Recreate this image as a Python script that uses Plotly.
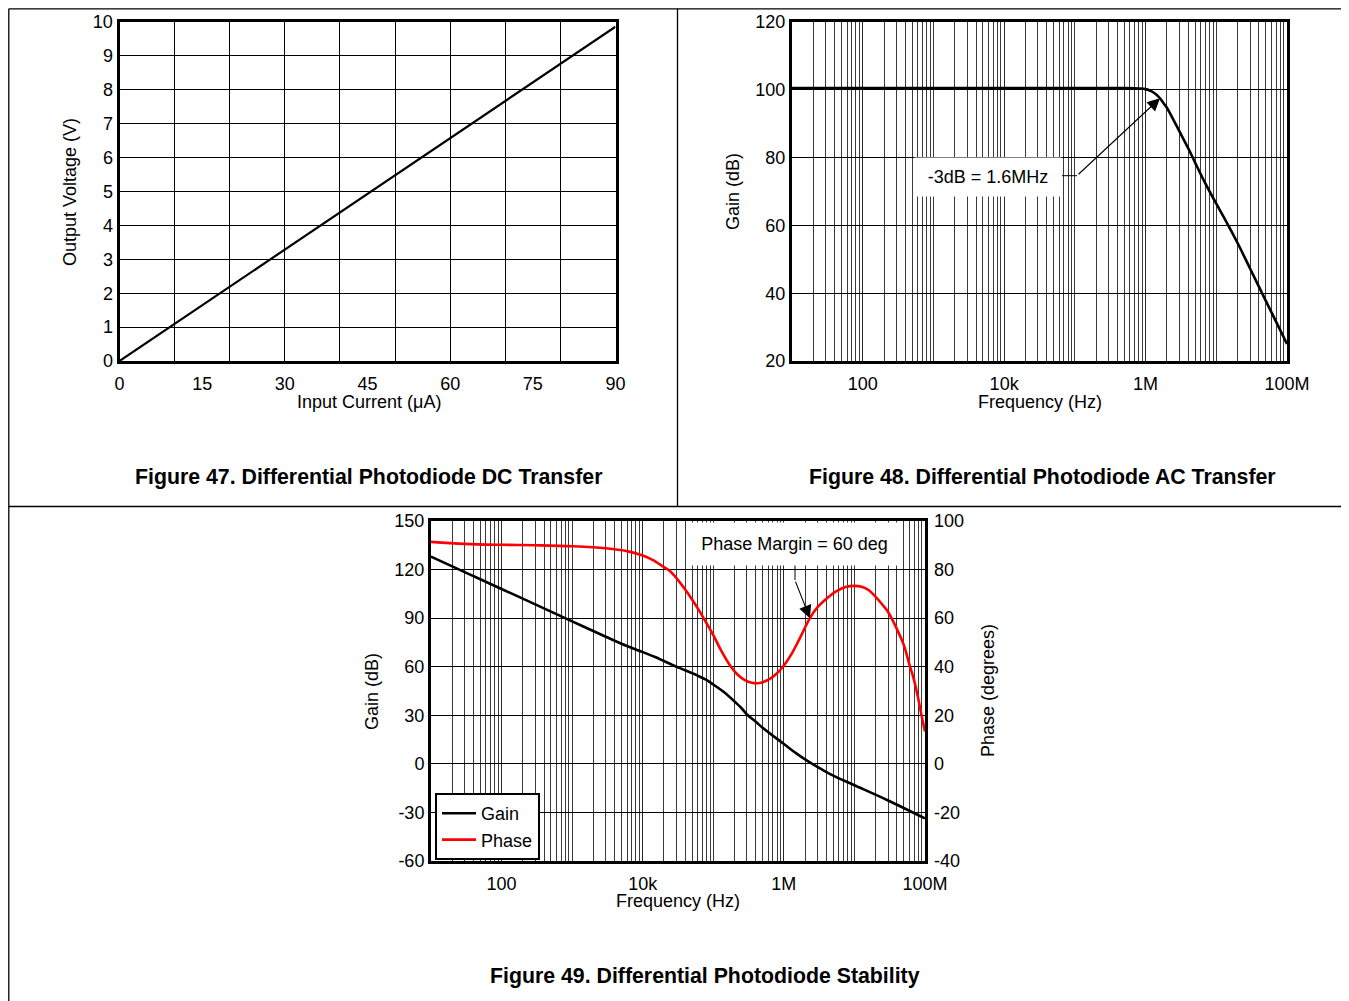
import numpy as np
import plotly.graph_objects as go

W, H = 1349, 1001
# the page body adds an 8 px offset to the figure; positions below are in screen pixels
OX, OY = 8, 8

# ---------------- Figure 47: DC transfer ----------------
dc_current_uA = [0, 90]
dc_output_V = [0, 9.86]
dc_xticks = [0, 15, 30, 45, 60, 75, 90]
dc_yticks = list(range(0, 11))

# ---------------- Figure 48: AC transfer ----------------
ac_freq_hz = [10, 100, 1e3, 1e4, 1e5, 5e5, 8e5, 1e6, 1.2e6, 1.4e6, 1.6e6, 1.8e6,
              2e6, 2.5e6, 3e6, 4e6, 5e6, 7e6, 1e7, 1.4e7, 2e7, 3e7, 5e7, 7e7, 1e8]
ac_gain_db = [100.5, 100.5, 100.5, 100.5, 100.5, 100.5, 100.4, 100.2, 99.6, 98.7,
              97.5, 96.0, 94.7, 91.0, 87.8, 82.8, 78.6, 72.4, 66.4, 60.9, 54.8,
              47.3, 37.8, 31.6, 25.0]
ac_3db_freq = 1.6e6
ac_3db_label = "-3dB = 1.6MHz"
ac_yticks = [20, 40, 60, 80, 100, 120]

# ---------------- Figure 49: stability ----------------
stab_gain_freq = [10, 20, 50, 100, 300, 1e3, 3e3, 5e3, 1e4, 1.5e4, 2e4, 3e4, 4e4, 6e4,
                  8e4, 1e5, 1.5e5, 2e5, 2.5e5, 3e5, 4e5, 5e5, 1e6, 1.5e6, 2e6, 2.6e6,
                  3.5e6, 5e6, 1e7, 3e7, 1e8]
stab_gain_db = [128, 122, 114, 108, 98.5, 88, 78.5, 74.2, 69, 66, 63.5, 60, 57.8, 54.5,
                51.8, 49, 43.5, 38.5, 34.5, 30.5, 26, 22.3, 12.3, 6.5, 2.8, -0.3,
                -3.6, -7.3, -13.2, -22.6, -33.7]
stab_phase_freq = [10, 30, 100, 300, 1e3, 3e3, 6e3, 1e4, 1.4e4, 2e4, 2.4e4, 3e4, 4e4,
                   5e4, 6.5e4, 8e4, 1e5, 1.3e5, 1.73e5, 2.2e5, 2.8e5, 3.5e5, 4.2e5,
                   5e5, 6.5e5, 8e5, 1e6, 1.3e6, 1.7e6, 2.34e6, 3e6, 4e6, 5.5e6, 7.5e6,
                   1e7, 1.3e7, 1.6e7, 2e7, 2.5e7, 3e7, 4e7, 5e7, 6e7, 7e7, 8e7, 9e7, 1e8]
stab_phase_deg = [91.4, 90.6, 90.2, 90.0, 89.6, 88.8, 87.6, 85.8, 83.9, 81, 79.5, 76.5,
                  71.8, 67.7, 62.5, 58, 53, 46.5, 40.5, 36.8, 34.5, 33.4, 33.2,
                  33.6, 35.2, 37.3, 40.5, 45.5, 52, 60, 64.5, 68, 71, 72.8,
                  73.3, 72.8, 71.5, 68.8, 65.5, 62.5, 55.5, 49, 41, 34.5, 27, 19.5, 13.3]
pm_freq = 2.34e6
pm_deg = 60
pm_label = "Phase Margin = 60 deg"
stab_gain_ticks = [-60, -30, 0, 30, 60, 90, 120, 150]
stab_phase_ticks = [-40, -20, 0, 20, 40, 60, 80, 100]

log_tickvals = [100, 1e4, 1e6, 1e8]
log_ticktext = ["100", "10k", "1M", "100M"]
log_minor_vals = [m * 10 ** e for e in range(1, 8) for m in range(1, 10)] + [1e8]

FONT = "Liberation Sans, Arial, Helvetica, sans-serif"
tickfont = dict(family=FONT, size=18, color="black")


def px(x):
    return (x - OX) / W


def py(y):
    return 1 - (y - OY) / H


def labels(vals):
    return [str(v) for v in vals]


fig = go.Figure()
fig.add_trace(go.Scatter(x=dc_current_uA, y=dc_output_V, mode="lines",
                         line=dict(color="black", width=2.2),
                         xaxis="x", yaxis="y", showlegend=False))
fig.add_trace(go.Scatter(x=ac_freq_hz, y=ac_gain_db, mode="lines",
                         line=dict(color="black", width=2.6, shape="spline", smoothing=1.0),
                         xaxis="x2", yaxis="y2", showlegend=False))
fig.add_trace(go.Scatter(x=stab_gain_freq, y=stab_gain_db, mode="lines", name="Gain",
                         line=dict(color="black", width=2.6, shape="spline", smoothing=1.0),
                         xaxis="x3", yaxis="y3"))
fig.add_trace(go.Scatter(x=stab_phase_freq, y=stab_phase_deg, mode="lines", name="Phase",
                         line=dict(color="#ff0000", width=2.6, shape="spline", smoothing=1.0),
                         xaxis="x3", yaxis="y4"))

frame = dict(showline=True, mirror=True, linecolor="black", linewidth=3,
             zeroline=False, ticks="", tickfont=tickfont, fixedrange=True,
             automargin=False)

log_x = dict(frame, type="log", range=[1, 8], tickmode="array",
             tickvals=log_tickvals, ticktext=log_ticktext,
             showgrid=True, gridcolor="#2a2a2a", gridwidth=1,
             minor=dict(tickmode="array", tickvals=log_minor_vals, showgrid=True,
                        gridcolor="#3a3a3a", gridwidth=1, ticks=""),
             ticklabelstandoff=4)

fig.update_layout(
    width=W, height=H,
    margin=dict(l=0, r=0, t=0, b=0, pad=0, autoexpand=False),
    paper_bgcolor="white", plot_bgcolor="white",
    font=dict(family=FONT, size=18, color="black"),
    xaxis=dict(frame, domain=[px(119.5), px(615.5)], anchor="y", range=[0, 90],
               tickmode="array", tickvals=dc_xticks, showgrid=False,
               minor=dict(tickmode="linear", tick0=0, dtick=10, showgrid=True,
                          gridcolor="black", gridwidth=1, ticks=""),
               ticklabelstandoff=4),
    yaxis=dict(frame, domain=[py(361), py(22)], anchor="x", range=[0, 10],
               tickmode="array", tickvals=dc_yticks, showgrid=True,
               gridcolor="black", gridwidth=1, ticklabelstandoff=0),
    xaxis2=dict(log_x, domain=[px(792), px(1287)], anchor="y2"),
    yaxis2=dict(frame, domain=[py(361), py(22)], anchor="x2", range=[20, 120],
                tickmode="array", tickvals=ac_yticks, showgrid=True,
                gridcolor="black", gridwidth=1, ticklabelstandoff=0),
    xaxis3=dict(log_x, domain=[px(431), px(925)], anchor="y3"),
    yaxis3=dict(frame, domain=[py(861), py(521)], anchor="x3", range=[-60, 150],
                tickmode="array", tickvals=stab_gain_ticks, ticktext=labels(stab_gain_ticks),
                showgrid=True, gridcolor="black", gridwidth=1, ticklabelstandoff=0),
    yaxis4=dict(overlaying="y3", anchor="x3", side="right", range=[-40, 100],
                tickmode="array", tickvals=stab_phase_ticks, ticktext=labels(stab_phase_ticks),
                showgrid=False, showline=False, zeroline=False, ticks="", tickfont=tickfont,
                ticklabelstandoff=8, fixedrange=True, automargin=False),
    legend=dict(x=px(435), y=py(793), xanchor="left", yanchor="top",
                bgcolor="white", bordercolor="black", borderwidth=2,
                font=dict(family=FONT, size=18, color="black"),
                itemwidth=34, tracegroupgap=0),
)

line_style = dict(color="black", width=1.3)
edge_x = max(6.5, OX + 0.8)
edge_y = max(7, OY + 0.8)
shapes = [
    # table borders
    dict(type="line", xref="paper", yref="paper", x0=px(edge_x), x1=px(1360), y0=py(edge_y), y1=py(edge_y), line=line_style),
    dict(type="line", xref="paper", yref="paper", x0=px(edge_x), x1=px(edge_x), y0=py(edge_y), y1=py(1010), line=line_style),
    dict(type="line", xref="paper", yref="paper", x0=px(677.5), x1=px(677.5), y0=py(edge_y), y1=py(506.5), line=line_style),
    dict(type="line", xref="paper", yref="paper", x0=px(edge_x), x1=px(1360), y0=py(506.5), y1=py(506.5), line=line_style),
    # leader segments of callouts
    dict(type="line", xref="paper", yref="paper", x0=px(1062), x1=px(1077), y0=py(175.7), y1=py(175.7),
         line=dict(color="black", width=1)),
    dict(type="line", xref="paper", yref="paper", x0=px(795), x1=px(795), y0=py(565), y1=py(580),
         line=dict(color="black", width=1)),
]
fig.update_layout(shapes=shapes)

ann = []


def text_ann(x, y, text, size=18, angle=0, bold=False):
    t = f"<b>{text}</b>" if bold else text
    ann.append(dict(xref="paper", yref="paper", x=px(x), y=py(y), text=t, showarrow=False,
                    xanchor="center", yanchor="middle", textangle=angle,
                    font=dict(family=FONT, size=size, color="black")))


# axis titles
text_ann(70, 192, "Output Voltage (V)", angle=-90)
text_ann(369, 402, "Input Current (μA)")
text_ann(733, 192, "Gain (dB)", angle=-90)
text_ann(1040, 402, "Frequency (Hz)")
text_ann(372, 692, "Gain (dB)", angle=-90)
text_ann(988, 691, "Phase (degrees)", angle=-90)
text_ann(678, 901, "Frequency (Hz)")
# captions
text_ann(369, 477, "Figure 47. Differential Photodiode DC Transfer", size=21.3, bold=True)
text_ann(1042, 477, "Figure 48. Differential Photodiode AC Transfer", size=21.3, bold=True)
text_ann(705, 976, "Figure 49. Differential Photodiode Stability", size=21.3, bold=True)

# callout boxes
ann.append(dict(xref="paper", yref="paper", x=px(988), y=py(176.5), text=ac_3db_label,
                showarrow=False, bgcolor="white", width=130, height=22, borderpad=8,
                xanchor="center", yanchor="middle",
                font=dict(family=FONT, size=18, color="black")))
ann.append(dict(xref="x2", yref="y2", x=np.log10(ac_3db_freq), y=ac_gain_db[0] - 3,
                text="", showarrow=True, arrowhead=2, arrowsize=2.3, arrowwidth=1.1,
                arrowcolor="black", ax=-83, ay=77.4, standoff=0))
ann.append(dict(xref="paper", yref="paper", x=px(794), y=py(544), text=pm_label,
                showarrow=False, bgcolor="white", width=199, height=26, borderpad=8,
                xanchor="center", yanchor="middle",
                font=dict(family=FONT, size=18, color="black")))
ann.append(dict(xref="x3", yref="y4", x=np.log10(pm_freq), y=pm_deg,
                text="", showarrow=True, arrowhead=2, arrowsize=2.3, arrowwidth=1.1,
                arrowcolor="black", ax=-15, ay=-38, standoff=0))
fig.update_layout(annotations=ann)

fig.write_html("out.html")
